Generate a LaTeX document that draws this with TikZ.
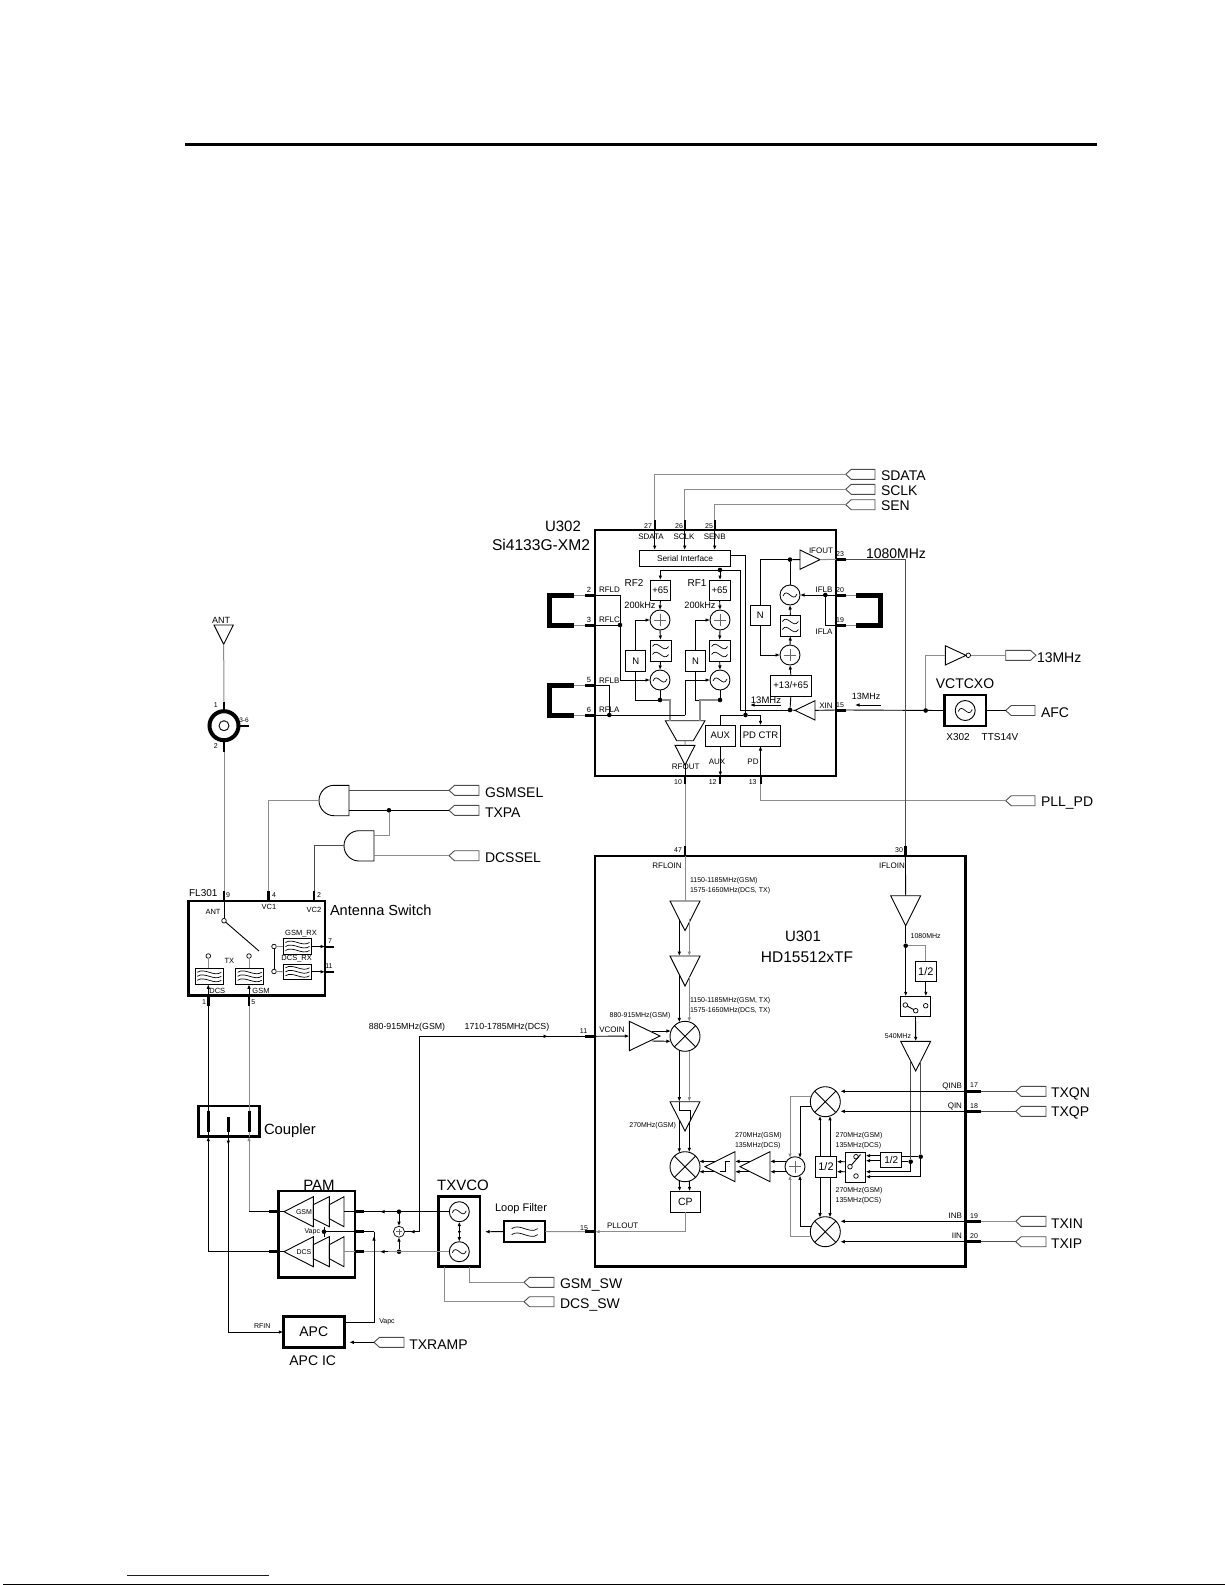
\documentclass[tikz,border=0pt]{standalone}
\usepackage{fontspec}
\setmainfont{Liberation Sans}
\usetikzlibrary{arrows.meta}
\tikzset{
 ln/.style={line width=.9pt,draw=black},
 gl/.style={line width=1pt,draw=black!45},
 dk/.style={line width=.9pt,draw=black!70},
 ar/.style={-{Latex[length=4.5pt,width=3.6pt]}},
 pinw/.style={line width=3pt,draw=black},
 pinn/.style={line width=2pt,draw=black},
 hv/.style={line width=2.6pt},
 fs/.style={font=\fontsize{#1}{#1}\selectfont},
 bx/.style={draw=black,line width=.9pt,inner sep=0pt,outer sep=0pt},
 ghostst/.style={inner sep=0pt,outer sep=0pt},
 lb/.style={inner sep=0pt,outer sep=0pt,fs=#1},
 dotst/.style={circle,fill=black,inner sep=0pt,outer sep=0pt,minimum size=4.6pt},
 smallc/.style={circle,draw=black,line width=.7pt,inner sep=0pt,outer sep=0pt,minimum size=4.6pt},
 shp/.style={draw=black,line width=.9pt},
 tagst/.style={draw=black!70,line width=.9pt},
}
\newcount\labn
\newcommand\mylab[4][center]{\global\advance\labn by 1 \node[lb=#2,anchor=#1] (t\the\labn) at (#3) {#4};}
\newcommand\bxn[7]{\node[bx,#6,minimum width={(#4)-(#2)},minimum height={(#5)-(#3)}] (#1) at ({((#2)+(#4))/2},{((#3)+(#5))/2}) {#7};}
\newcommand\ghostn[5]{\node[ghostst,minimum width={(#4)-(#2)},minimum height={(#5)-(#3)}] (#1) at ({((#2)+(#4))/2},{((#3)+(#5))/2}) {};}
\newcommand\trid[5]{\ghostn{#1}{#2}{#3}{#4}{#5}\draw[shp] (#1.north west)--(#1.north east)--(#1.south)--cycle;}
\newcommand\trir[5]{\ghostn{#1}{#2}{#3}{#4}{#5}\draw[shp] (#1.north west)--(#1.south west)--(#1.east)--cycle;}
\newcommand\tril[5]{\ghostn{#1}{#2}{#3}{#4}{#5}\draw[shp] (#1.north east)--(#1.south east)--(#1.west)--cycle;}
\newcommand\frus[5]{\ghostn{#1}{#2}{#3}{#4}{#5}\draw[shp] ([yshift=-8pt]#1.north west)--(#1.north east)--(#1.south east)--([yshift=8pt]#1.south west)--cycle;}
\newcommand\tagL[4]{\ghostn{#1}{#2}{#3-5}{#4}{#3+5}\draw[tagst] (#1.west)--([xshift=5.5pt]#1.north west)--(#1.north east)--(#1.south east)--([xshift=5.5pt]#1.south west)--cycle;}
\newcommand\tagR[4]{\ghostn{#1}{#2}{#3-5}{#4}{#3+5}\draw[tagst] (#1.east)--([xshift=-5.5pt]#1.north east)--(#1.north west)--(#1.south west)--([xshift=-5.5pt]#1.south east)--cycle;}
\newcommand\dotn[3]{\node[dotst] (#1) at (#2,#3) {};}
\newcommand\smc[3]{\node[smallc] (#1) at (#2,#3) {};}
\newcommand\circn[4]{\node[circle,draw=black,line width=.9pt,inner sep=0pt,outer sep=0pt,minimum size={2*#4}] (#1) at (#2,#3) {};}
\newcommand\sumn[3]{\circn{#1}{#2}{#3}{10}\draw[line width=.6pt,draw=black!60,shift={(#1.center)}] (-6,0)--(6,0) (0,-6)--(0,6);}
\newcommand\vcon[3]{\circn{#1}{#2}{#3}{10}\draw[line width=.7pt,shift={(#1.center)}] (-7,1) .. controls (-3,-9) and (3,9) .. (7,-1);}
\newcommand\mixn[3]{\circn{#1}{#2}{#3}{15}\draw[line width=.9pt] (#1.45)--(#1.225) (#1.135)--(#1.315);}
\newcommand\wv[4][8]{\draw[line width=.7pt,shift={(#2.center)}] ({-#3},{#4}) .. controls ({-.4*#3},{#4-#1}) and ({.4*#3},{#4+#1}) .. ({#3},{#4});}
\newcommand\pairline[3]{\draw[ln,ar] ([xshift=-5.7pt,#1]#2) -- ([xshift=-5.7pt]#3);\draw[gl,ar] ([xshift=4.3pt,#1]#2) -- ([xshift=4.3pt]#3);}
\begin{document}
\begin{tikzpicture}[x=1pt,y=-1pt]
\useasboundingbox (0,0) rectangle (1225,1585);
% page furniture
\coordinate (ruleL) at (185,144.6); \coordinate (ruleR) at (1097,144.6);
\draw[line width=3pt] (ruleL)--(ruleR);
\coordinate (linkL) at (127,1575.3); \coordinate (linkR) at (269,1575.3);
\draw[blue,line width=1pt] (linkL)--(linkR);
\coordinate (edgeL) at (3,1584.5); \coordinate (edgeR) at (1225,1584.5);
\draw[line width=1pt] (edgeL)--(edgeR);

%%%%%%%%% U302
\bxn{u302}{595}{530}{836}{776}{hv}{}
\mylab{15}{563,526}{U302}
\mylab[east]{15.6}{590,545}{Si4133G-XM2}
\bxn{si}{639.3}{550}{730.7}{566.7}{fs=8.3}{Serial Interface}
\tagL{tsdata}{845.7}{474.3}{875}\mylab[west]{14}{881,476}{SDATA}
\tagL{tsclk}{845.7}{489.3}{875}\mylab[west]{14}{881,491}{SCLK}
\tagL{tsen}{845.7}{504.7}{875}\mylab[west]{14}{881,506}{SEN}
\coordinate (p27) at (654.7,520); \coordinate (p26) at (684.7,520); \coordinate (p25) at (714.7,520);
\draw[gl] (tsdata.west) -| (p27);
\draw[gl] (tsclk.west) -| (p26);
\draw[gl] (tsen.west) -| (p25);
\foreach \p in {p27,p26,p25}{\draw[pinn] (\p) -- (\p |- u302.north);\draw[ln,ar] (\p |- u302.north) -- (\p |- si.north);}
\mylab{7}{648,526}{27}\mylab{7}{679,526}{26}\mylab{7}{709,526}{25}
\mylab{8}{651,537}{SDATA}\mylab{8}{684,537}{SCLK}\mylab{8}{714.7,537}{SENB}
% RF2 / RF1 chains
\bxn{rtd}{650}{580}{670.7}{600.7}{fs=9.5}{+65}
\bxn{rod}{709.3}{580}{730}{600.7}{fs=9.5}{+65}
\sumn{rts}{660}{620}\sumn{ros}{720}{620}
\bxn{rtf}{650}{640}{671}{661}{}{}\wv{rtf}{8}{-4}\wv{rtf}{8}{4}
\bxn{rof}{709.3}{640}{730}{661}{}{}\wv{rof}{8}{-4}\wv{rof}{8}{4}
\vcon{rtv}{660}{680}\vcon{rov}{720}{680}
\bxn{rtn}{625.7}{650.7}{645.7}{671}{fs=9.5}{N}
\bxn{ron}{685.3}{650.7}{705.7}{671}{fs=9.5}{N}
\dotn{dse}{720}{570}
\dotn{rtj}{660}{700}\dotn{roj}{720}{700}
\dotn{d13}{790}{710}\dotn{dbus}{745.5}{715}
\coordinate (bend) at (740.5,570);
\draw[ln,ar] (dse) -| (rtd.north);
\draw[ln,ar] (dse) -- (dse |- rod.north);
\draw[ln] (dse) -- (bend) |- (d13);
\draw[ln] ([yshift=3pt]si.east) -| (dbus);
\foreach \a/\b in {rtd/rts,rts/rtf,rtf/rtv,rod/ros,ros/rof,rof/rov}{\draw[ln,ar] (\a.south) -- (\b.north);}
\draw[ln,ar] (rtn.north) |- (rts.west);
\draw[ln,ar] (ron.north) |- (ros.west);
\draw[ln] (rtn.south) |- (rtj);
\draw[ln] (ron.south) |- (roj);
\draw[ln] (rtv.south) -- (rtj);
\draw[ln] (rov.south) -- (roj);
\ghostn{mux}{665.3}{720.7}{705}{740.7}
\draw[shp] (mux.north west)--(mux.north east)--([xshift=-11.7pt]mux.south east)--([xshift=11.4pt]mux.south west)--cycle;
\coordinate (mxa) at (670,720.7); \coordinate (mxb) at (700,720.7);
\draw[gl,line width=1.5pt] (rtj) -| (mxa);
\draw[gl,line width=1.5pt] (roj) -| (mxb);
\trid{rfa}{675}{745.3}{695}{765}
\draw[gl] (mux.south) -- (rfa.north);
% left pins & brackets
\coordinate (p2) at (585,595); \coordinate (p3) at (585,625); \coordinate (p5) at (585,685); \coordinate (p6) at (585,715);
\foreach \p in {p2,p3,p5,p6}{\draw[pinw] (\p) -- (\p -| u302.west);}
\coordinate (bka) at (574,595); \coordinate (bkb) at (574,625); \coordinate (bkc) at (574,685); \coordinate (bkd) at (574,715);
\coordinate (bkaa) at (549.3,595); \coordinate (bkbb) at (549.3,625); \coordinate (bkcc) at (549.3,685); \coordinate (bkdd) at (549.3,715);
\draw[line width=5pt,line join=miter] (bka)--(bkaa)--(bkbb)--(bkb);
\draw[line width=5pt,line join=miter] (bkc)--(bkcc)--(bkdd)--(bkd);
\draw[gl] (bka)--(p2); \draw[gl] (bkb)--(p3); \draw[gl] (bkc)--(p5); \draw[gl] (bkd)--(p6);
\dotn{rj}{620}{625}\dotn{rl}{609.3}{715}
\coordinate (bendb) at (685,715);
\draw[ln] (p2 -| u302.west) -| (rj);
\draw[ln] (p3 -| u302.west) -- (rj);
\draw[ln,ar] (rj) |- (rtv.west);
\draw[ln] (p5 -| u302.west) -| (rl);
\draw[ln] (p6 -| u302.west) -- (bendb);
\draw[ln,ar] (bendb) |- (rov.west);
\mylab{7.5}{589,590}{2}\mylab{7.5}{589,619.5}{3}\mylab{7.5}{589,680}{5}\mylab{7.5}{589,709.5}{6}
\mylab[west]{8}{599,590}{RFLD}\mylab[west]{8}{599,620}{RFLC}\mylab[west]{8}{599,681}{RFLB}\mylab[west]{8}{599,710}{RFLA}
\mylab{10}{634,583}{RF2}\mylab{10}{697,583}{RF1}
\mylab{9.2}{640,605.7}{200kHz}\mylab{9.2}{700,605.7}{200kHz}
% IF part
\trir{ifa}{800}{550}{820}{569.3}
\dotn{ifd}{790}{559.6}
\vcon{ifv}{790}{595}
\bxn{iff}{780}{615}{800.7}{636}{}{}\wv{iff}{8}{-4}\wv{iff}{8}{4}
\sumn{ifs}{790}{655}
\bxn{ifb}{770}{675}{811.7}{696}{fs=9.5}{+13/+65}
\bxn{ifn}{750}{605}{770.7}{625.7}{fs=9.5}{N}
\tril{ifi}{795}{700.7}{815}{720}
\draw[ln] (ifd) -- (ifa.west);
\draw[ln] (ifd) -- (ifv.north);
\draw[ln] (ifd) -| (ifn.north);
\draw[ln,ar] (ifn.south) |- (ifs.west);
\draw[ln,ar] (iff.north) -- (ifv.south);
\draw[ln,ar] (ifs.north) -- (iff.south);
\draw[ln,ar] (ifb.north) -- (ifs.south);
\draw[ln] (d13) -- (ifb.south);
\draw[ln] (d13) -- (ifi.west);
\coordinate (p23) at (846,559.3); \coordinate (p20) at (846,595); \coordinate (p19) at (846,625); \coordinate (p15) at (846,710);
\foreach \p in {p23,p20,p19,p15}{\draw[pinw] (\p) -- (\p -| u302.east);}
\draw[gl] (ifa.east) -- (p23 -| u302.east);
\dotn{ifj}{825.3}{595}
\draw[ln,ar] (p20 -| u302.east) -- (ifv.east);
\draw[ln] (ifj) |- (p19 -| u302.east);
\draw[ln] (ifi.east) -- (p15 -| u302.east);
\coordinate (bke) at (855.7,595); \coordinate (bkf) at (855.7,625);
\coordinate (bkee) at (880.2,595); \coordinate (bkff) at (880.2,625);
\draw[line width=5pt,line join=miter] (bke)--(bkee)--(bkff)--(bkf);
\draw[gl] (p20)--(bke); \draw[gl] (p19)--(bkf);
\mylab{7}{840,554}{23}\mylab{7}{840,590}{20}\mylab{7}{840,620}{19}\mylab{7}{840,705}{15}
\mylab{8}{821,551}{IFOUT}\mylab{8}{824,590}{IFLB}\mylab{8}{824,632}{IFLA}\mylab{8}{826,706}{XIN}
\mylab[west]{14}{866,554}{1080MHz}
\coordinate (a13a) at (781,705); \coordinate (a13b) at (750,705);
\draw[ln,ar] (a13a) -- (a13b);
\mylab{9.5}{766,700}{13MHz}
\coordinate (a13c) at (880.7,705); \coordinate (a13d) at (855,705);
\draw[ln,ar] (a13c) -- (a13d);
\mylab{9}{866,696}{13MHz}
% bottom blocks
\bxn{aux}{705.3}{725.3}{735.3}{746}{fs=9.5}{AUX}
\bxn{pdc}{740.3}{725.3}{780.7}{746}{fs=9.5}{PD CTR}
\draw[ln] (dbus) -| (aux.north);
\draw[ln,ar] (dbus) -| (pdc.north);
\coordinate (p10) at (685,784); \coordinate (p12) at (720.3,784); \coordinate (p13) at (760.5,784);
\draw[pinn] (p10) -- (p10 |- u302.south);
\draw[pinn] (p12) -- (p12 |- u302.south);
\draw[pinn] (p13) -- (p13 |- u302.south);
\draw[ln] (rfa.south) -- (p10 |- u302.south);
\draw[ln,ar] (aux.south) -- (p12 |- u302.south);
\draw[ln,ar] (p13 |- u302.south) -- (pdc.south);
\mylab{7}{678,782}{10}\mylab{7}{712.7,782}{12}\mylab{7}{752.7,782}{13}
\mylab{8}{685.7,767}{RFOUT}\mylab{8}{717,762}{AUX}\mylab{8}{753,762}{PD}
\tagL{tpll}{1005.7}{800.7}{1035}\mylab[west]{14}{1041,803}{PLL\_PD}
\draw[gl] (p13) |- (tpll.west);
% VCTCXO
\bxn{vc}{944.3}{695}{986}{726}{hv}{}
\vcon{vcs}{965.2}{710.5}
\dotn{dx}{925.7}{710.5}
\draw[ln] (p15) -- (vc.west);
\trir{inv}{945.3}{645.7}{966}{665}
\smc{bub}{968.3}{655.3}
\draw[gl] (dx) |- (inv.west);
\tagR{t13m}{1005.7}{655.3}{1036}
\draw[gl] (bub.east) -- (t13m.west);
\mylab[west]{14}{1037,658}{13MHz}
\tagL{tafc}{1005.7}{710.5}{1035}\mylab[west]{14}{1041,713}{AFC}
\draw[ln] (vc.east) -- (tafc.west);
\mylab{14}{965,684}{VCTCXO}
\mylab{10}{958,737}{X302}\mylab{10}{1000,737}{TTS14V}

%%%%%%%%% U301
\bxn{u301}{595}{856}{965.7}{1266.7}{hv}{}
\mylab{15}{803,936.7}{U301}\mylab{15.5}{807,957}{HD15512xTF}
\coordinate (p47) at (685,846); \coordinate (p30) at (905.4,846);
\draw[gl] (p10) -- (p47);
\draw[dk] (p23) -| (p30);
\draw[pinn] (p47) -- (p47 |- u301.north);
\draw[pinw] (p30) -- (p30 |- u301.north);
\mylab{7}{678,850}{47}\mylab{7}{899,850}{30}
\mylab{8}{667,865.7}{RFLOIN}\mylab{8}{892,865.7}{IFLOIN}
\mylab[west]{7}{690,880.7}{1150-1185MHz(GSM)}
\mylab[west]{7}{690,890.7}{1575-1650MHz(DCS, TX)}
\mylab[west]{7}{690,1001}{1150-1185MHz(GSM, TX)}
\mylab[west]{7}{690,1011}{1575-1650MHz(DCS, TX)}
\mylab{7}{640,1015.7}{880-915MHz(GSM)}
\mylab{8}{612,1030}{VCOIN}
\mylab{7}{583.6,1031}{11}
\trid{a1}{670}{901}{700}{930.7}
\trid{a2}{670}{956}{700}{986}
\trid{a3}{670}{1101.7}{700}{1131}
\mixn{m1}{685}{1036.3}
\mixn{m2}{685}{1166.7}
\bxn{cpb}{670}{1191.3}{700.7}{1212.3}{fs=10.5}{CP}
\draw[gl] (p47 |- u301.north) -- (a1.north);
\pairline{yshift=11.4pt}{a1.south}{a2.north}
\draw[ln,ar] ([xshift=-5.7pt,yshift=11.4pt]a2.south) -- ([xshift=-5.7pt,yshift=13.9pt]m1.center);
\draw[gl,ar] ([xshift=4.3pt,yshift=8.6pt]a2.south) -- ([xshift=4.3pt,yshift=14.4pt]m1.center);
\draw[ln,ar] ([xshift=-5.7pt,yshift=-13.9pt]m1.center) -- ([xshift=-5.7pt]a3.north);
\draw[gl,ar] ([xshift=4.3pt,yshift=-14.4pt]m1.center) -- ([xshift=4.3pt]a3.north);
\draw[ln,shift={(a3.north)}] (-5.7,0)--(-5.7,9)--(5.7,9)--(5.7,19);
\draw[ln,ar] ([xshift=-5.7pt,yshift=11.4pt]a3.south) -- ([xshift=-5.7pt,yshift=13.9pt]m2.center);
\draw[ln,ar] ([xshift=4.3pt,yshift=8.6pt]a3.south) -- ([xshift=4.3pt,yshift=14.4pt]m2.center);
\draw[ln,ar] ([xshift=-5.7pt,yshift=-13.9pt]m2.center) -- ([xshift=-5.7pt]cpb.north);
\draw[ln,ar] ([xshift=4.3pt,yshift=-14.4pt]m2.center) -- ([xshift=4.3pt]cpb.north);
\mylab{7}{652.7,1126}{270MHz(GSM)}
\coordinate (p11) at (585,1036.3); \coordinate (p15r) at (585,1231.7);
\draw[pinw] (p11) -- (p11 -| u301.west);
\draw[pinw] (p15r) -- (p15r -| u301.west);
\trir{a4}{629.3}{1021.3}{660}{1050.7}
\draw[ln,ar] (p11 -| u301.west) -- (a4.west);
\draw[ln,ar] ([xshift=-8.3pt,yshift=5pt]a4.east) -- ([xshift=-14.1pt,yshift=5.3pt]m1.center);
\draw[ln,ar] ([xshift=-8.3pt,yshift=-5pt]a4.east) -- ([xshift=-14.1pt,yshift=-5pt]m1.center);
\draw[gl,ar] (cpb.south) |- (p15r -| u301.west);
\mylab{8}{622.7,1226}{PLLOUT}
\mylab{7}{584,1228}{15}
\tril{a5}{705}{1151.7}{735}{1181.7}
\tril{a6}{740}{1151.7}{770}{1181.7}
\sumn{sm}{795}{1166.7}
\draw[ln,shift={(a5.center)}] (0,5)--(5,5)--(5,-5.7)--(10,-5.7);
\foreach \d in {5.3pt,-5pt}{
 \draw[ln,ar] ([xshift=10pt,yshift=\d]a5.west) -- ([xshift=14.1pt,yshift=\d]m2.center);
 \draw[ln,ar] ([xshift=10pt,yshift=\d]a6.west) -- ([yshift=\d]a5.east);
 \draw[ln,ar] ([xshift=-8.6pt,yshift=\d]sm.center) -- ([yshift=\d]a6.east);
}
\mixn{m3}{825.3}{1101.7}
\mixn{m4}{825.3}{1231.7}
\draw[gl,ar] ([xshift=-13.9pt,yshift=5.7pt]m3.center) -| ([xshift=-5pt,yshift=8.7pt]sm.center);
\draw[ln,ar] ([xshift=-14.4pt,yshift=-4.3pt]m3.center) -| ([xshift=5pt,yshift=8.7pt]sm.center);
\draw[ln,ar] ([xshift=-13.9pt,yshift=5.7pt]m4.center) -| ([xshift=5pt,yshift=-8.7pt]sm.center);
\draw[gl,ar] ([xshift=-14.4pt,yshift=-4.3pt]m4.center) -| ([xshift=-5pt,yshift=-8.7pt]sm.center);
\bxn{hb}{815.3}{1156}{836.7}{1177.3}{fs=11}{1/2}
\draw[ln,ar] ([xshift=-6pt]hb.north) -- ([xshift=-5.3pt,yshift=-14pt]m3.center);
\draw[ln,ar] ([xshift=4pt]hb.north) -- ([xshift=4.7pt,yshift=-14.2pt]m3.center);
\draw[ln,ar] ([xshift=-6pt]hb.south) -- ([xshift=-5.3pt,yshift=14pt]m4.center);
\draw[ln,ar] ([xshift=4pt]hb.south) -- ([xshift=4.7pt,yshift=14.2pt]m4.center);
\bxn{sw}{845.3}{1152.7}{865.7}{1182.3}{}{}
\draw[ln,ar] ([yshift=5.8pt]sw.west) -- ([yshift=5pt]hb.east);
\draw[ln,ar] ([yshift=-4.2pt]sw.west) -- ([yshift=-5pt]hb.east);
\smc{swa}{856}{1156.7}\smc{swb}{850}{1166.7}\smc{swc}{856}{1176}
\coordinate (swt) at (860.5,1154.5);
\draw[ln] (swb)--(swt);
\bxn{hs}{880.7}{1152.3}{901.7}{1167.3}{fs=10}{1/2}
\coordinate (sA) at (865.7,1155.7); \coordinate (sB) at (865.7,1160.7);
\coordinate (sC) at (865.7,1171.7); \coordinate (sD) at (865.7,1176.7);
\coordinate (hsA) at (880.7,1155.7); \coordinate (hsB) at (880.7,1160.7);
\coordinate (hsU) at (901.7,1156.7); \coordinate (hsL) at (901.7,1161.7);
\draw[ln,ar] (hsA) -- (sA); \draw[ln,ar] (hsB) -- (sB);
\dotn{d1}{910.7}{1161.7}\dotn{d2}{920.7}{1156.7}
\draw[ln] (hsU) -- (d2); \draw[ln] (hsL) -- (d1);
\draw[ln,ar] (d1) |- (sC);
\draw[ln,ar] (d2) |- (sD);
\trid{a8}{890.7}{895.7}{920.7}{925.7}
\draw[ln] (p30 |- u301.north) -- (a8.north);
\dotn{d3}{905.7}{945.7}
\draw[ln] (a8.south) -- (d3);
\bxn{h8}{915}{961.3}{936.7}{981.3}{fs=11}{1/2}
\bxn{sw8}{900.3}{996.3}{930.7}{1016.3}{}{}
\draw[gl] (d3) -| (h8.north);
\draw[ln,ar] (h8.south) -- (h8.south |- sw8.north);
\draw[ln,ar] (d3) -- (d3 |- sw8.north);
\smc{swe}{905.3}{1005}\smc{swf}{915.7}{1010.7}\smc{swg}{925.7}{1005.7}
\draw[ln] (swe)--(swf);
\trid{a7}{900.7}{1041.3}{930.7}{1071}
\draw[ln,ar] (sw8.south) -- (a7.north);
\draw[dk] ([xshift=-5pt,yshift=9.9pt]a7.south) -- (d1);
\draw[dk] ([xshift=5pt,yshift=9.9pt]a7.south) -- (d2);
\mylab[west]{7}{910.7,935.7}{1080MHz}
\mylab{7}{898,1035.7}{540MHz}
\mylab[west]{7}{735,1136}{270MHz(GSM)}\mylab[west]{7}{735,1146}{135MHz(DCS)}
\mylab[west]{7}{835.7,1136}{270MHz(GSM)}\mylab[west]{7}{835.7,1146}{135MHz(DCS)}
\mylab[west]{7}{835.7,1191}{270MHz(GSM)}\mylab[west]{7}{835.7,1201}{135MHz(DCS)}
\coordinate (q17) at (981,1091.3); \coordinate (q18) at (981,1111.3); \coordinate (q19) at (981,1221.3); \coordinate (q20) at (981,1241.7);
\foreach \p in {q17,q18,q19,q20}{\draw[pinw] (\p) -- (\p -| u301.east);}
\draw[ln,ar] (q17 -| u301.east) -- (q17 -| m3.east);
\draw[ln,ar] (q18 -| u301.east) -- (q18 -| m3.east);
\draw[ln,ar] (q19 -| u301.east) -- (q19 -| m4.east);
\draw[ln,ar] (q20 -| u301.east) -- (q20 -| m4.east);
\tagL{ttxqn}{1015.7}{1091.3}{1046}\tagL{ttxqp}{1015.7}{1111.3}{1046}
\tagL{ttxin}{1015.7}{1221.3}{1046}\tagL{ttxip}{1015.7}{1241.7}{1046}
\draw[dk] (q17)--(ttxqn.west); \draw[dk] (q18)--(ttxqp.west); \draw[gl] (q19)--(ttxin.west); \draw[dk] (q20)--(ttxip.west);
\mylab[west]{14}{1051,1093.5}{TXQN}\mylab[west]{14}{1051,1112.5}{TXQP}\mylab[west]{14}{1051,1224}{TXIN}\mylab[west]{14}{1051,1243.5}{TXIP}
\mylab{7}{974,1085}{17}\mylab{7}{974,1106}{18}\mylab{7}{974,1216}{19}\mylab{7}{974,1236}{20}
\mylab[east]{8}{962,1086}{QINB}\mylab[east]{8}{962,1106}{QIN}\mylab[east]{8}{962,1216}{INB}\mylab[east]{8}{962,1236}{IIN}

%%%%%%%%% Antenna
\trid{anttri}{214}{625}{233.3}{644.3}
\mylab{9}{221,620}{ANT}
\node[circle,draw=black,line width=4pt,inner sep=0pt,outer sep=0pt,minimum size=29pt] (con) at (224,725.7) {};
\circn{conii}{224}{725.7}{5}
\coordinate (cp1) at (224,701.7); \coordinate (cp2) at (224,751.7); \coordinate (cp3) at (249,725.7);
\draw[gl] (anttri.south) -- (cp1);
\draw[pinn] (cp1) -- (con.north);
\draw[pinn] (con.south) -- (cp2);
\draw[pinn] (con.east) -- (cp3);
\mylab{7}{215.7,705}{1}\mylab{7}{215.7,745.7}{2}\mylab{6.5}{244,720}{3-6}
% gates
\newcommand\gaten[5]{\ghostn{#1}{#2}{#3}{#4}{#5}\draw[shp] (#1.north east)--([xshift=15pt]#1.north west) .. controls ([xshift=6.7pt]#1.north west) and ([yshift=8.3pt]#1.west) .. (#1.west) .. controls ([yshift=-8.3pt]#1.west) and ([xshift=6.7pt]#1.south west) .. ([xshift=15pt]#1.south west) -- (#1.south east)--cycle;}
\gaten{g1}{319}{785.3}{349}{815.7}
\gaten{g2}{344}{830.7}{374}{861}
\tagL{tgsm}{449}{790.3}{479}\mylab[west]{14}{485,792.5}{GSMSEL}
\tagL{ttx}{449}{810.3}{479}\mylab[west]{14}{485,812.5}{TXPA}
\tagL{tdc}{449}{855.7}{479}\mylab[west]{14}{485,857.5}{DCSSEL}
\draw[dk] (tgsm.west) -- (tgsm.west -| g1.east);
\draw[ln] (ttx.west) -- (ttx.west -| g1.east);
\draw[gl] (tdc.west) -- (tdc.west -| g2.east);
\dotn{dtx}{389}{810.3}
\coordinate (g2c) at (374,835.3);
\draw[gl] (dtx) |- (g2c);
% FL301
\bxn{fl}{188.3}{901}{325}{995.7}{hv}{}
\coordinate (p9) at (224,891); \coordinate (p4) at (268.3,891); \coordinate (p2f) at (314,891);
\draw[gl] (cp2) -- (p9);
\draw[gl] (g1.west) -| (p4);
\draw[dk] (g2.west) -| (p2f);
\draw[pinn] (p9) -- (p9 |- fl.north);
\draw[pinw] (p4) -- (p4 |- fl.north);
\draw[pinn] (p2f) -- (p2f |- fl.north);
\smc{swant}{224}{920.7}
\draw[ln] (p9 |- fl.north) -- (swant.north);
\coordinate (swend) at (259,951);
\draw[ln] (swant) -- (swend);
\mylab{10}{203.3,892.7}{FL301}
\mylab{7}{228,895}{9}\mylab{7}{274,895}{4}\mylab{7}{319,895}{2}
\mylab{7.5}{213,911.7}{ANT}\mylab{7.5}{269,906.7}{VC1}\mylab{7.5}{314,910}{VC2}
\mylab[west]{14.6}{330,910}{Antenna Switch}
\bxn{ft1}{195.3}{968.3}{223.3}{984.3}{}{}\foreach \d in {-4,0,4}{\wv[5]{ft1}{12}{\d}}
\bxn{ft2}{235.7}{968.3}{263.7}{984.3}{}{}\foreach \d in {-4,0,4}{\wv[5]{ft2}{12}{\d}}
\bxn{fr1}{283.3}{938.3}{311.7}{954.7}{}{}\foreach \d in {-4,0,4}{\wv[5]{fr1}{12}{\d}}
\bxn{fr2}{283.3}{964.3}{311.7}{979.3}{}{}\foreach \d in {-4,0,4}{\wv[5]{fr2}{12}{\d}}
\smc{txa}{208.3}{956}\smc{txb}{249}{956}
\smc{rxa}{274}{946.5}\smc{rxb}{274}{971.5}
\draw[gl] (txa.south) -- (txa.south |- ft1.north);
\draw[gl] (txb.south) -- (txb.south |- ft2.north);
\draw[ln] (rxa.south) -- (rxb.north);
\draw[gl] (rxa.east) -- (fr1.west);
\draw[gl] (rxb.east) -- (fr2.west);
\coordinate (pf1) at (208.3,1005.7); \coordinate (pf5) at (249,1005.7);
\coordinate (pf7) at (334,946.5); \coordinate (pf11) at (334,971.8);
\draw[pinw] (pf1) -- (pf1 |- fl.south);
\draw[pinn] (pf5) -- (pf5 |- fl.south);
\draw[pinn] (pf7) -- (pf7 -| fl.east);
\draw[pinn] (pf11) -- (pf11 -| fl.east);
\draw[ln,ar] (pf1 |- fl.south) -- (pf1 |- ft1.south);
\draw[ln,ar] (pf5 |- fl.south) -- (pf5 |- ft2.south);
\draw[ln,ar] (fr1.east) -- (fr1.east -| fl.east);
\draw[ln,ar] (fr2.east) -- (fr2.east -| fl.east);
\mylab{7.5}{229.3,960.7}{TX}\mylab{7.5}{217.3,990.7}{DCS}\mylab{7.5}{261,990.7}{GSM}
\mylab{7.5}{301,933.3}{GSM\_RX}\mylab{7.5}{296.7,958.3}{DCS\_RX}
\mylab{7}{204,1002}{1}\mylab{7}{253.3,1002}{5}
\mylab{7}{330,941}{7}\mylab{7}{329,966}{11}
% Coupler
\bxn{cpl}{198.3}{1106}{259.3}{1136.7}{hv}{}
\mylab[west]{14.8}{264,1131}{Coupler}
\coordinate (bar1) at (208.3,1110.7); \coordinate (bar1b) at (208.3,1131.7);
\coordinate (bar2) at (228.3,1117.3); \coordinate (bar2b) at (228.3,1131.7);
\coordinate (bar3) at (249,1110.7); \coordinate (bar3b) at (249,1131.7);
\draw[pinw] (bar1)--(bar1b); \draw[pinw] (bar2)--(bar2b); \draw[pinw] (bar3)--(bar3b);
\draw[ln] (pf1) -- (bar1);
\draw[gl] (pf5) -- (bar3);
\draw[ln] (bar1b) -- (bar1b |- cpl.south);
\draw[gl] (bar3b) -- (bar3b |- cpl.south);
\draw[ln] (bar2b) -- (bar2b |- cpl.south);
% PAM
\bxn{pam}{278.3}{1191}{355}{1277.7}{hv}{}
\mylab{15}{319,1185.7}{PAM}
\tril{tg1}{284}{1196.7}{313.3}{1226.7}\frus{tg2}{313.3}{1196.7}{329.3}{1226.7}\frus{tg3}{329.3}{1196.7}{344}{1226.7}
\tril{td1}{284}{1236.7}{313.3}{1266.7}\frus{td2}{313.3}{1236.7}{329.3}{1266.7}\frus{td3}{329.3}{1236.7}{344}{1266.7}
\mylab{7}{304,1211.7}{GSM}\mylab{7}{304,1251.7}{DCS}\mylab{7}{312.3,1231.7}{Vapc}
\coordinate (pG) at (269,1211.7); \coordinate (pL) at (269,1251.7);
\coordinate (pGr) at (364,1211.7); \coordinate (pLr) at (364,1251.7); \coordinate (pV) at (364,1231.7);
\foreach \p in {pG,pL}{\draw[pinw] (\p) -- (\p -| pam.west);}
\foreach \p in {pGr,pLr,pV}{\draw[pinw] (\p) -- (\p -| pam.east);}
\draw[ln] (pG -| pam.west) -- (tg1.west);
\draw[ln] (pL -| pam.west) -- (td1.west);
\draw[ln] (tg3.east) -- (pGr -| pam.east);
\draw[gl] (td3.east) -- (pLr -| pam.east);
\draw[gl,ar] (pG) -| (bar3b |- cpl.south);
\draw[ln] (pG) -- (pG -| bar3b);
\draw[ln,ar] (pL) -| (bar1b |- cpl.south);
\dotn{dV}{324}{1231.7}
\coordinate (dVa) at (324,1226.7); \coordinate (dVb) at (324,1236.7);
\draw[ln] (dVa)--(dVb);
\draw[ln] (pV -| pam.east) -- (dV);
% TXVCO
\bxn{vco}{438.7}{1196.7}{480}{1266.7}{hv}{}
\mylab{15}{463,1185.7}{TXVCO}
\vcon{vt1}{459.3}{1211.7}\vcon{vt2}{459.3}{1251.7}
\draw[ln,{Latex[length=4.5pt,width=3.6pt]}-{Latex[length=4.5pt,width=3.6pt]}] (vt1.south) -- (vt2.north);
\node[dotst,minimum size=3pt] (vtm) at (459.3,1231.7) {};
\dotn{dvT}{399}{1211.7}\dotn{dvB}{399}{1251.7}
\draw[ln] (pGr) -- (vt1.west);
\draw[gl] (pLr) -- (vt2.west);
\coordinate (amA) at (388,1211.7); \coordinate (amB) at (380,1211.7);
\coordinate (amC) at (388,1251.7); \coordinate (amD) at (380,1251.7);
\draw[ln,ar] (amA)--(amB); \draw[ln,ar] (amC)--(amD);
\node[circle,draw=black,line width=.7pt,inner sep=0pt,outer sep=0pt,minimum size=11pt] (ss) at (399,1231.7) {};
\draw[line width=.5pt,draw=black!60,shift={(ss.center)}] (-3,0)--(3,0) (0,-3)--(0,3);
\draw[ln,ar] (dvT) -- (ss.north);
\draw[ln,ar] (dvB) -- (ss.south);
\coordinate (pc) at (419.3,1036.3);
\draw[ln] (ss.east) -| (pc);
\draw[ln] (pc) -- (p11);
\coordinate (amE) at (535,1036.3); \coordinate (amF) at (548,1036.3);
\draw[ln,ar] (amE)--(amF);
\coordinate (amG) at (419,1231.7); \coordinate (amH) at (410,1231.7);
\draw[ln,ar] (amG)--(amH);
\mylab{8.8}{407,1027}{880-915MHz(GSM)}
\mylab{8.8}{507,1027}{1710-1785MHz(DCS)}
% loop filter
\bxn{lf}{504}{1221}{545.3}{1242.3}{line width=2.2pt}{}
\wv[6]{lf}{13}{-3}\wv[6]{lf}{13}{3}
\mylab{11}{521,1208.7}{Loop Filter}
\coordinate (lfa) at (485,1231.7);
\draw[ln,ar] (lf.west) -- (lfa);
\draw[gl] (lf.east) -- (p15r);
% SW tags
\tagL{tgsw}{524}{1282.3}{554}\mylab[west]{14}{560,1284.5}{GSM\_SW}
\tagL{tdsw}{524}{1301.7}{554}\mylab[west]{14}{560,1304.5}{DCS\_SW}
\coordinate (gs1) at (469.3,1266.7); \coordinate (ds1) at (444,1266.7);
\draw[gl] (gs1) |- (tgsw.west);
\draw[gl] (ds1) |- (tdsw.west);
% APC
\bxn{apc}{283.3}{1316.7}{344.3}{1347.3}{hv,fs=14}{APC}
\mylab{14}{312.7,1361}{APC IC}
\mylab{7}{262.3,1326}{RFIN}
\mylab{7}{387,1322}{Vapc}
\draw[ln,ar] (bar2b |- cpl.south) |- (apc.west);
\coordinate (amI) at (228.3,1137); \coordinate (amJ) at (228.3,1145);
\draw[ln,ar] (amI)--(amJ);
\coordinate (vt) at (374,1231.7); \coordinate (vtA) at (374,1246); \coordinate (vtB) at (374,1236);
\draw[ln] ([yshift=9.7pt]apc.east) -| (vt);
\draw[ln] (pV) -- (vt);
\draw[ln,ar] (vtA)--(vtB);
\tagL{tramp}{374}{1342.3}{404}\mylab[west]{14}{409.3,1344.5}{TXRAMP}
\coordinate (apcR) at (349.3,1342.3);
\draw[ln,ar] (tramp.west) -- (apcR);
\end{tikzpicture}
\end{document}
